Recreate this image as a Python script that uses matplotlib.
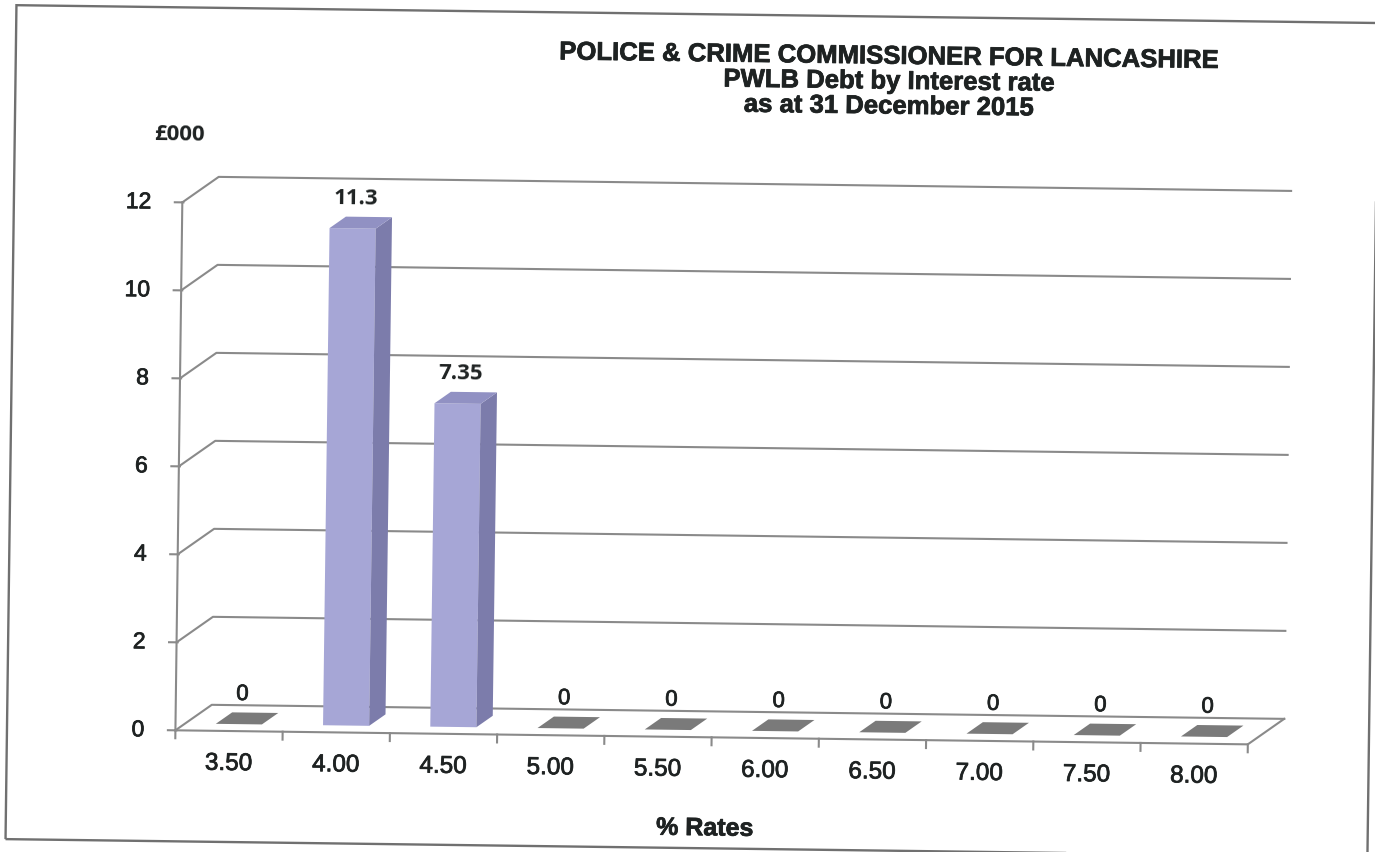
import matplotlib
matplotlib.use('Agg')
import matplotlib.pyplot as plt
import matplotlib.transforms as mtransforms
import matplotlib.patheffects as pe
from matplotlib.patches import Polygon, Rectangle

##### data
rates = ['3.50', '4.00', '4.50', '5.00', '5.50', '6.00', '6.50', '7.00', '7.50', '8.00']
debt = [0, 11.3, 7.35, 0, 0, 0, 0, 0, 0, 0]   # £000
y_ticks = [0, 2, 4, 6, 8, 10, 12]

title = 'POLICE & CRIME COMMISSIONER FOR LANCASHIRE\nPWLB Debt by Interest rate\nas at 31 December 2015'

##### style
grid_c = '#8a8a8a'
front_c = '#a6a6d6'
side_c = '#7c7cab'
top_c = '#9191c3'
flat_c = '#7a7a7a'
txt_c = '#1e2222'
thick = [pe.withStroke(linewidth=0.55, foreground=txt_c)]   # scanned text looks heavier

DX, DY = 0.336, 0.59      # depth of the 3d box (category units, value units)
f0, f1 = 0.27, 0.72       # where the bars sit inside the depth
w = 0.43                  # bar width
ANG = -0.75               # the scan is slightly tilted

fig = plt.figure(figsize=(13.75, 8.52), dpi=100)
ax = fig.add_axes([0.1305, 0.135, 0.78, 0.6197])
ax.set_xlim(0, 10)
ax.set_ylim(0, 12)
ax.axis('off')

rot = mtransforms.Affine2D().rotate_deg_around(687, 426, ANG)
T = ax.transData + rot
FT = fig.transFigure + rot

# outer frame
fig.add_artist(Rectangle((11, 4), 1362, 834, fill=False, ec='#707070', lw=1.7, transform=rot))

# walls / gridlines
for t in y_ticks:
    ax.plot([0, DX, 10 + DX], [t, t + DY, t + DY], color=grid_c, lw=1.5, transform=T, clip_on=False)
    ax.plot([-0.07, 0.01], [t, t], color=grid_c, lw=1.5, transform=T, clip_on=False)
    ax.text(-0.29, t, str(t), ha='right', va='center', fontsize=16.5, family='Liberation Sans',
            color=txt_c, transform=T, rotation=ANG, rotation_mode='anchor', path_effects=thick)
ax.plot([0, 0], [0, 12], color=grid_c, lw=1.5, transform=T, clip_on=False)
ax.plot([0, 10, 10 + DX], [0, 0, DY], color=grid_c, lw=1.5, transform=T, clip_on=False)

for i in range(len(rates) + 1):
    ax.plot([i, i], [0, -0.18], color=grid_c, lw=1.5, transform=T, clip_on=False)

for i, (r, v) in enumerate(zip(rates, debt)):
    ax.text(i + 0.5, -0.75, r, ha='center', va='center', fontsize=17.5, family='Liberation Sans',
            color=txt_c, transform=T, rotation=ANG, rotation_mode='anchor', path_effects=thick)

    x0 = i + (1 - w) / 2 + f0 * DX
    x1 = x0 + w
    yb = f0 * DY
    yt = yb + v
    ddx = (f1 - f0) * DX
    ddy = (f1 - f0) * DY
    if v > 0:
        ax.add_patch(Polygon([(x0, yb), (x1, yb), (x1, yt), (x0, yt)], closed=True,
                             fc=front_c, ec='none', transform=T, clip_on=False, zorder=3))
        ax.add_patch(Polygon([(x1, yb), (x1 + ddx, yb + ddy), (x1 + ddx, yt + ddy), (x1, yt)], closed=True,
                             fc=side_c, ec='none', transform=T, clip_on=False, zorder=3))
        ax.add_patch(Polygon([(x0, yt), (x1, yt), (x1 + ddx, yt + ddy), (x0 + ddx, yt + ddy)], closed=True,
                             fc=top_c, ec='none', transform=T, clip_on=False, zorder=3))
        ax.text(x0 + w / 2 + 0.03, yt + ddy + 0.17, f'{v:g}', ha='center', va='bottom', fontsize=16,
                fontweight='bold', family='Open Sans', color=txt_c, transform=T,
                rotation=ANG, rotation_mode='anchor')
    else:
        ax.add_patch(Polygon([(x0, yb), (x1, yb), (x1 + ddx, yb + ddy), (x0 + ddx, yb + ddy)], closed=True,
                             fc=flat_c, ec='none', transform=T, clip_on=False, zorder=3))
        ax.text(x0 + w / 2 + 0.03, yb + ddy + 0.17, f'{v:g}', ha='center', va='bottom', fontsize=16,
                family='Liberation Sans', color=txt_c, transform=T, rotation=ANG, rotation_mode='anchor',
                path_effects=thick)

# texts
fig.text(885 / 1375, 1 - 79 / 852, title, ha='center', va='center', fontsize=18.5, fontweight='bold',
         family='Liberation Sans', color=txt_c, linespacing=1.05, transform=FT, rotation=ANG,
         rotation_mode='anchor', path_effects=thick)
fig.text(176 / 1375, 1 - 141 / 852, '£000', ha='center', va='center', fontsize=16, fontweight='bold',
         family='Open Sans', color=txt_c, transform=FT, rotation=ANG, rotation_mode='anchor')
fig.text(710 / 1375, 1 - 828 / 852, '% Rates', ha='center', va='center', fontsize=18, fontweight='bold',
         family='Liberation Sans', color=txt_c, transform=FT, rotation=ANG, rotation_mode='anchor',
         path_effects=thick)

plt.savefig('out.png', dpi=100)
